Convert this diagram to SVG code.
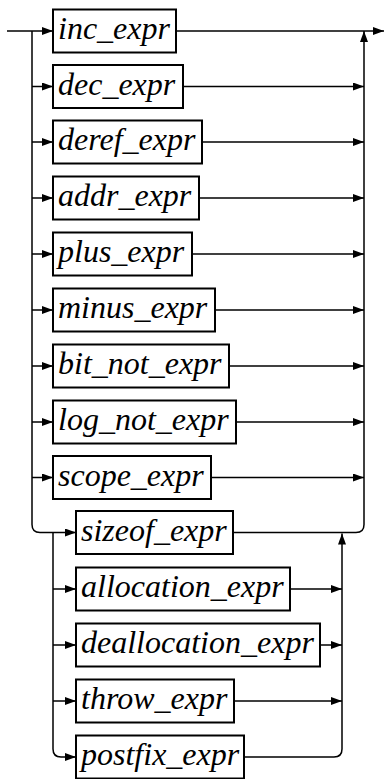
<svg xmlns="http://www.w3.org/2000/svg" width="385" height="779" viewBox="0 0 385 779">
<style>
text.nm{font-family:'Liberation Serif',serif;font-style:italic;font-size:32px;fill:#000}
.box{fill:#fff;stroke:#000;stroke-width:2}
.c{fill:none;stroke:#000;stroke-width:1.5;marker-end:url(#ah)}
</style>
<defs>
<marker id="ah" markerUnits="userSpaceOnUse" markerWidth="12" markerHeight="8" refX="11" refY="4" orient="auto">
<path d="M0,0 L11,4 L0,8 z" fill="#000"/>
</marker>
</defs>
<rect width="385" height="779" fill="#fff"/>
<g id="connectors">
<path class="c" d="M7,31 H53"/>
<path class="c" d="M176,31 H384"/>
<path class="c" d="M32,31 V524.5 Q32,532.5 40,532.5 H76"/>
<path class="c" d="M32,86.5 H53"/>
<path class="c" d="M32,142 H53"/>
<path class="c" d="M32,198 H53"/>
<path class="c" d="M32,254 H53"/>
<path class="c" d="M32,310 H53"/>
<path class="c" d="M32,366 H53"/>
<path class="c" d="M32,422 H53"/>
<path class="c" d="M32,477.5 H53"/>
<path class="c" d="M183,86.5 H364"/>
<path class="c" d="M202,142 H364"/>
<path class="c" d="M199,198 H364"/>
<path class="c" d="M192,254 H364"/>
<path class="c" d="M215,310 H364"/>
<path class="c" d="M229,366 H364"/>
<path class="c" d="M236,422 H364"/>
<path class="c" d="M211,477.5 H364"/>
<path class="c" d="M233,532.5 H356 Q364,532.5 364,524.5 V31"/>
<path class="c" d="M53,532.5 V749 Q53,757 61,757 H76"/>
<path class="c" d="M53,589 H76"/>
<path class="c" d="M53,645 H76"/>
<path class="c" d="M53,701 H76"/>
<path class="c" d="M290,589 H342"/>
<path class="c" d="M320,645 H342"/>
<path class="c" d="M234,701 H342"/>
<path class="c" d="M244,757 H334 Q342,757 342,749 V533.5"/>
</g>
<g id="inc_expr"><rect class="box" x="53" y="9.5" width="123" height="43"/><text class="nm" x="58" y="39">inc_expr</text></g>
<g id="dec_expr"><rect class="box" x="53" y="65" width="130" height="43"/><text class="nm" x="58" y="94.5">dec_expr</text></g>
<g id="deref_expr"><rect class="box" x="53" y="120.5" width="149" height="43"/><text class="nm" x="58" y="150">deref_expr</text></g>
<g id="addr_expr"><rect class="box" x="53" y="176.5" width="146" height="43"/><text class="nm" x="58" y="206">addr_expr</text></g>
<g id="plus_expr"><rect class="box" x="53" y="232.5" width="139" height="43"/><text class="nm" x="58" y="262">plus_expr</text></g>
<g id="minus_expr"><rect class="box" x="53" y="288.5" width="162" height="43"/><text class="nm" x="58" y="318">minus_expr</text></g>
<g id="bit_not_expr"><rect class="box" x="53" y="344.5" width="176" height="43"/><text class="nm" x="58" y="374">bit_not_expr</text></g>
<g id="log_not_expr"><rect class="box" x="53" y="400.5" width="183" height="43"/><text class="nm" x="58" y="430">log_not_expr</text></g>
<g id="scope_expr"><rect class="box" x="53" y="456" width="158" height="43"/><text class="nm" x="58" y="485.5">scope_expr</text></g>
<g id="sizeof_expr"><rect class="box" x="76" y="511" width="157" height="43"/><text class="nm" x="81" y="540.5">sizeof_expr</text></g>
<g id="allocation_expr"><rect class="box" x="76" y="567.5" width="214" height="43"/><text class="nm" x="81" y="597">allocation_expr</text></g>
<g id="deallocation_expr"><rect class="box" x="76" y="623.5" width="244" height="43"/><text class="nm" x="81" y="653">deallocation_expr</text></g>
<g id="throw_expr"><rect class="box" x="76" y="679.5" width="158" height="43"/><text class="nm" x="81" y="709">throw_expr</text></g>
<g id="postfix_expr"><rect class="box" x="76" y="735.5" width="168" height="43"/><text class="nm" x="81" y="765">postfix_expr</text></g>
</svg>
